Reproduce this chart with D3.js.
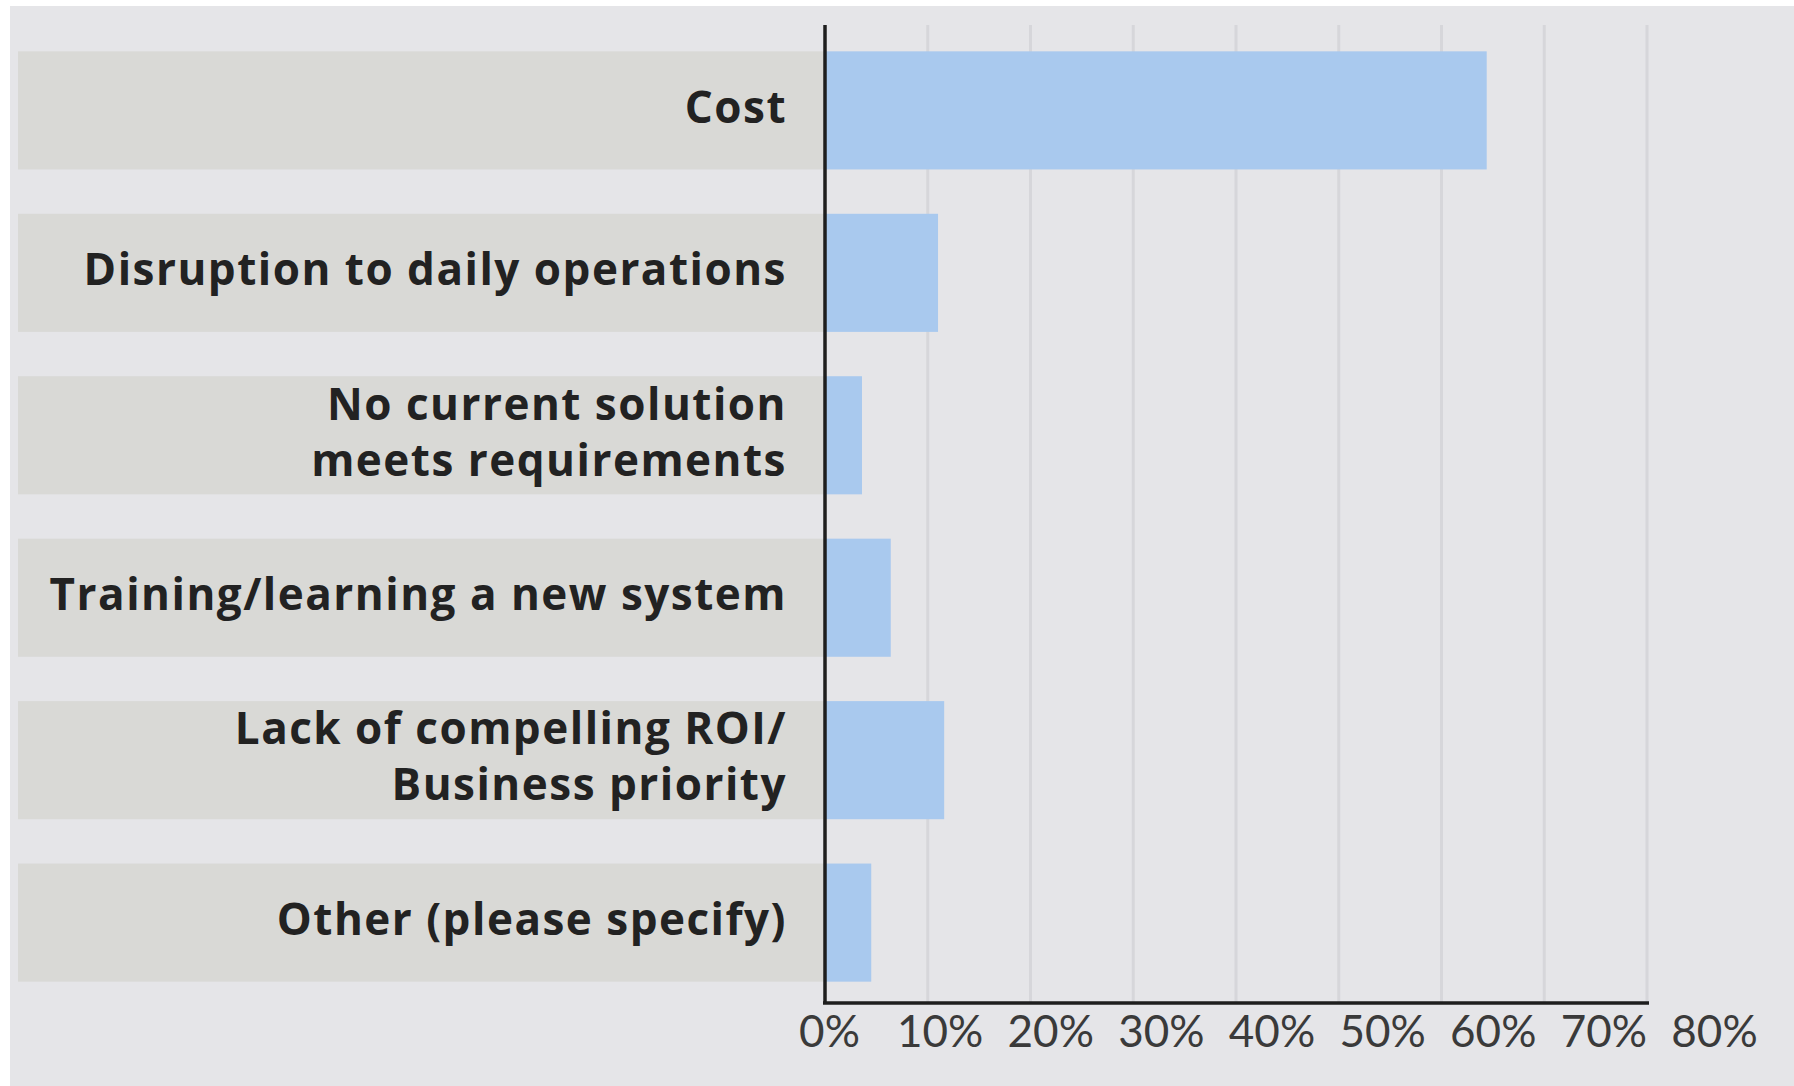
<!DOCTYPE html>
<html><head><meta charset="utf-8">
<script src="https://cdn.jsdelivr.net/npm/d3@7"></script>
<style>html,body{margin:0;padding:0;background:#fff;} svg{display:block}</style>
</head><body><svg id="chart" width="1794" height="1086"></svg>
<script>
const categories = ["Cost", "Disruption to daily operations", "No current solution meets requirements", "Training/learning a new system", "Lack of compelling ROI/ Business priority", "Other (please specify)"];
const categoryLines = [["Cost"], ["Disruption to daily operations"], ["No current solution", "meets requirements"], ["Training/learning a new system"], ["Lack of compelling ROI/", "Business priority"], ["Other (please specify)"]];
const values = [64.4, 11.0, 3.6, 6.4, 11.6, 4.5];
const xTicks = [0, 10, 20, 30, 40, 50, 60, 70, 80];
const tickLabels = ["0%", "10%", "20%", "30%", "40%", "50%", "60%", "70%", "80%"];

const svg = d3.select("#chart");
const W = 1794, H = 1086;

const x = d3.scaleLinear().domain([0, 80]).range([825, 1647]);
const xLab = d3.scaleLinear().domain([0, 80]).range([829, 1714]);
const y = d3.scaleBand().domain(categories).range([7, 1026]).paddingInner(0.273).paddingOuter(0.273);

// background
svg.append("rect").attr("x", 0).attr("y", 0).attr("width", W).attr("height", H).attr("fill", "#ffffff");
svg.append("rect").attr("x", 10).attr("y", 6).attr("width", W - 10).attr("height", H - 6).attr("fill", "#e5e5e8");

// gridlines
svg.append("g").selectAll("line").data(xTicks.filter(d => d > 0)).join("line")
  .attr("x1", d => x(d)).attr("x2", d => x(d))
  .attr("y1", 25).attr("y2", 1003)
  .attr("stroke", "#d6d6da").attr("stroke-width", 3);

// category bands
svg.append("g").selectAll("rect").data(categories).join("rect")
  .attr("x", 18).attr("y", d => y(d))
  .attr("width", x(0) - 18).attr("height", y.bandwidth())
  .attr("fill", "#d9d9d6");

// bars
svg.append("g").selectAll("rect").data(categories).join("rect")
  .attr("x", x(0)).attr("y", d => y(d))
  .attr("width", (d, i) => x(values[i]) - x(0)).attr("height", y.bandwidth())
  .attr("fill", "#a9c9ee");

// category labels
const lab = svg.append("g").attr("font-family", "'Open Sans', sans-serif").attr("font-weight", 700)
  .attr("font-size", 44).attr("letter-spacing", 1.5).attr("fill", "#222222").attr("text-anchor", "end");
categories.forEach((c, i) => {
  const lines = categoryLines[i];
  const cy = y(c) + y.bandwidth() / 2;
  const lh = 56;
  lines.forEach((t, j) => {
    lab.append("text")
      .attr("x", 787)
      .attr("y", cy + (j - (lines.length - 1) / 2) * lh)
      .attr("dy", "0.28em")
      .text(t);
  });
});

// axes lines
svg.append("line").attr("x1", x(0)).attr("x2", x(0)).attr("y1", 25).attr("y2", 1004)
  .attr("stroke", "#1e1e1e").attr("stroke-width", 3.5);
svg.append("line").attr("x1", x(0) - 2).attr("x2", x(80) + 2).attr("y1", 1003).attr("y2", 1003)
  .attr("stroke", "#1e1e1e").attr("stroke-width", 3.5);

// tick labels
const ax = d3.axisBottom(xLab).tickValues(xTicks).tickFormat((d, i) => tickLabels[i]).tickSize(0).tickPadding(0);
const g = svg.append("g").attr("transform", "translate(0,1016)").call(ax);
g.select(".domain").remove();
g.selectAll("text").attr("font-family", "Lato, sans-serif").attr("font-size", 44)
  .attr("font-weight", 400).attr("fill", "#3a3a3a");
</script>
</body></html>
